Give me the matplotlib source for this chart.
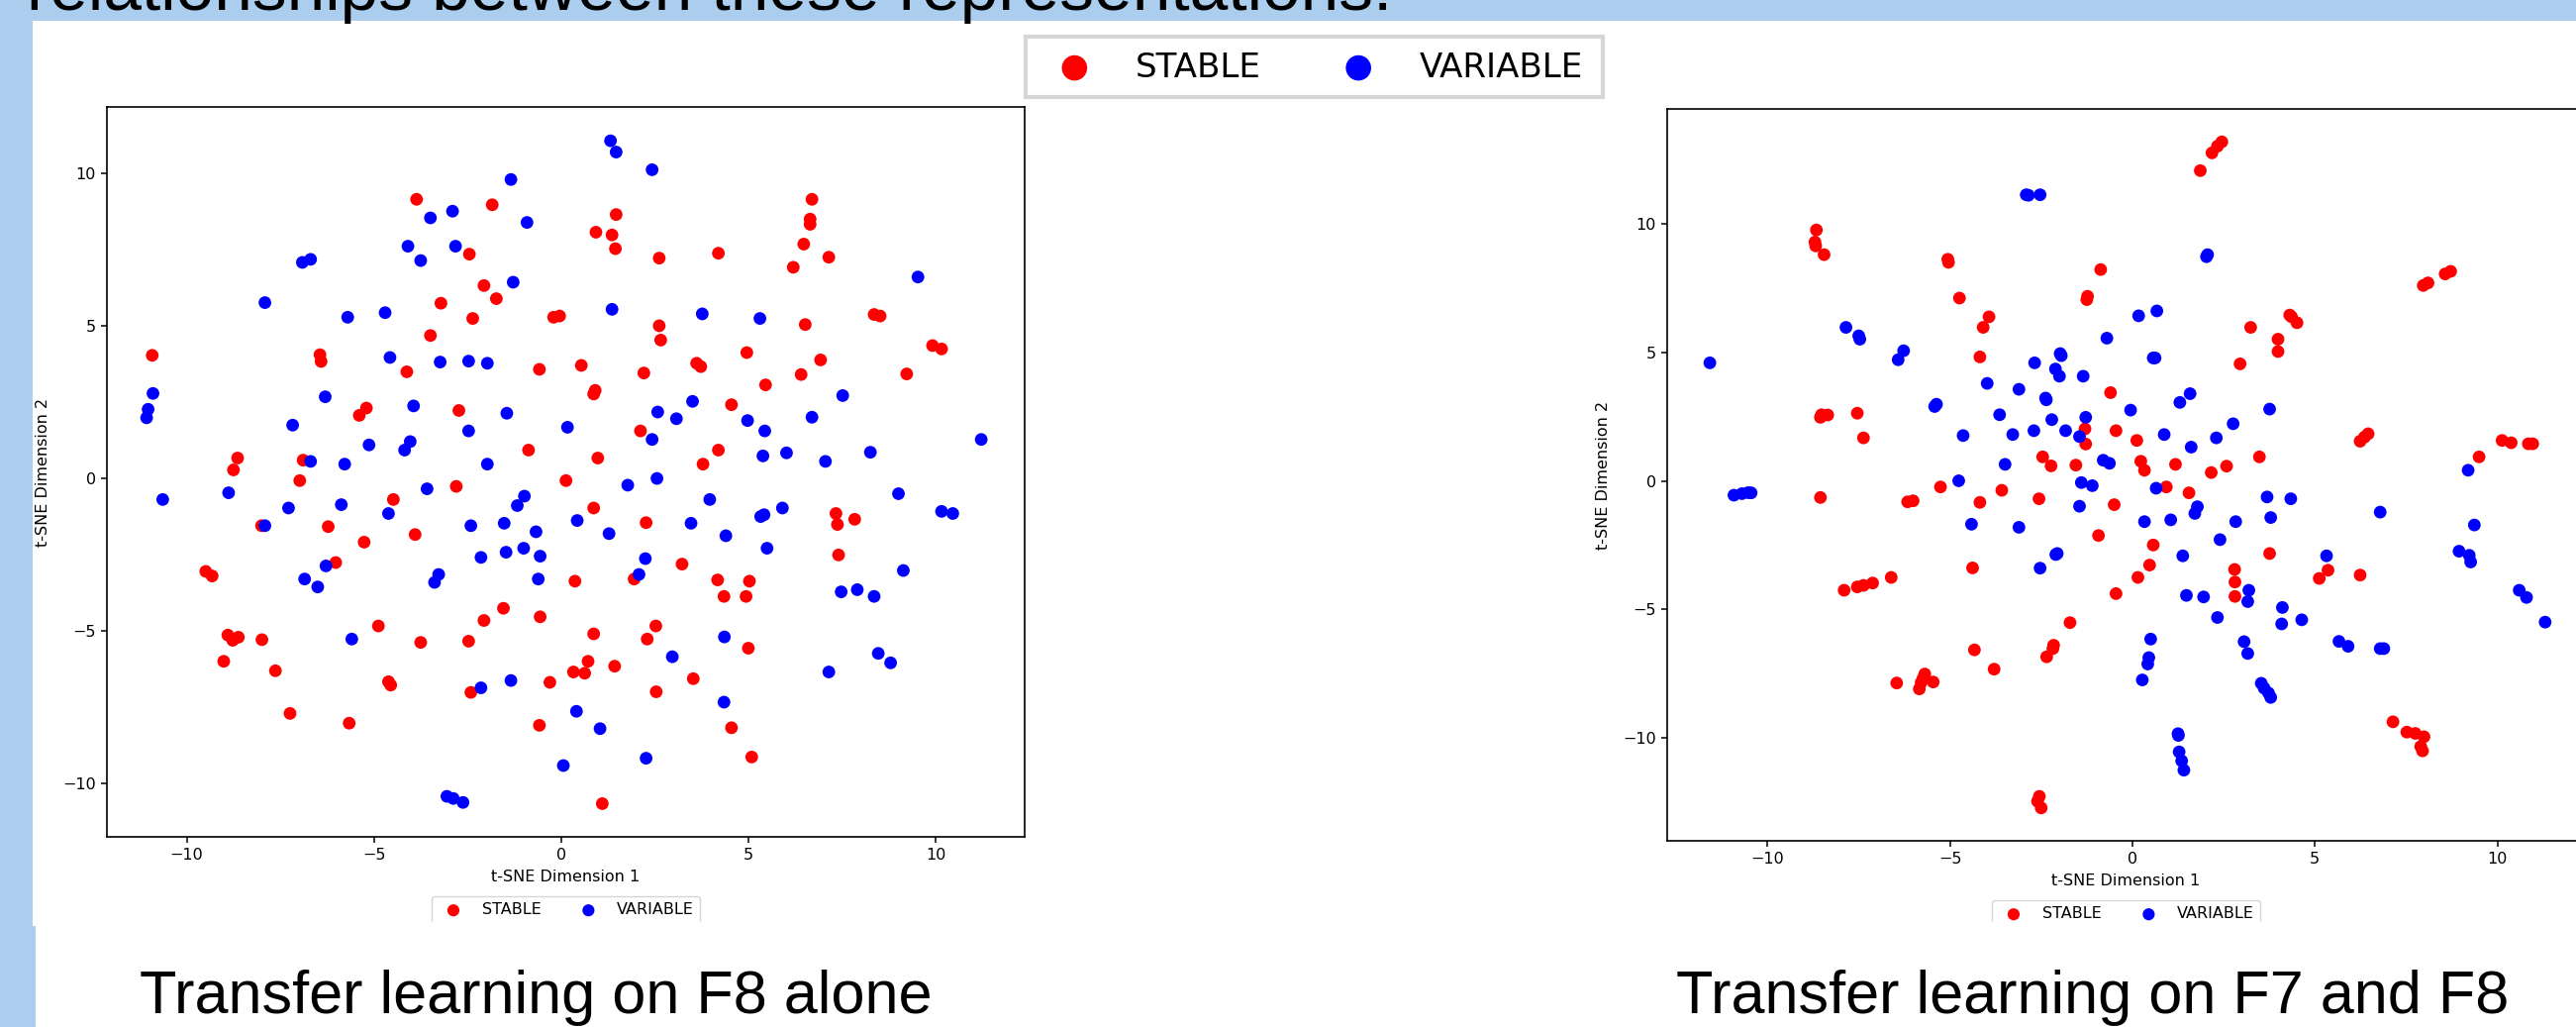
import matplotlib
matplotlib.use("Agg")
import matplotlib.pyplot as plt
import numpy as np
from matplotlib.patches import Rectangle

W, H = 2602, 1037
SLIDE_BLUE = "#abcdee"

# t-SNE coordinates, transfer learning on F8 alone
f8_stable = np.array([
    (-3.86, 9.16), (-1.84, 8.98), (1.47, 8.66), (0.93, 8.08), (1.36, 7.99), (1.45, 7.54),
    (-2.45, 7.36), (2.62, 7.23), (4.20, 7.39), (6.70, 9.16), (6.65, 8.51), (6.65, 8.34),
    (6.48, 7.69), (7.15, 7.26), (6.20, 6.93), (-2.06, 6.33), (-1.73, 5.90), (-3.21, 5.75),
    (-2.36, 5.25), (-0.20, 5.29), (-0.04, 5.33), (2.62, 5.01), (2.66, 4.54), (6.52, 5.05),
    (8.36, 5.38), (8.52, 5.33), (-10.92, 4.04), (-6.44, 4.06), (-6.41, 3.84), (-3.49, 4.69),
    (-4.12, 3.50), (-0.58, 3.58), (0.54, 3.71), (2.21, 3.46), (3.62, 3.78), (3.73, 3.67),
    (4.96, 4.13), (5.46, 3.07), (6.41, 3.41), (6.93, 3.89), (9.92, 4.36), (10.16, 4.25),
    (9.23, 3.43), (0.91, 2.89), (0.87, 2.77), (-5.20, 2.31), (-5.39, 2.07), (-2.73, 2.23),
    (4.55, 2.42), (2.12, 1.56), (4.20, 0.93), (-0.87, 0.93), (0.98, 0.67), (3.79, 0.47),
    (-8.64, 0.67), (-8.75, 0.28), (-6.89, 0.60), (-6.98, -0.07), (0.13, -0.07), (-2.80, -0.26),
    (-4.48, -0.69), (0.87, -0.97), (-8.00, -1.55), (-6.22, -1.58), (-3.90, -1.84), (-5.26, -2.09),
    (2.27, -1.45), (7.34, -1.15), (7.38, -1.51), (7.84, -1.34), (7.41, -2.51), (-6.02, -2.76),
    (-9.49, -3.05), (-9.32, -3.20), (0.37, -3.37), (1.95, -3.30), (3.23, -2.81), (4.18, -3.33),
    (5.03, -3.37), (4.35, -3.87), (4.94, -3.87), (-1.54, -4.26), (-2.06, -4.66), (-0.56, -4.54),
    (-4.88, -4.84), (-8.90, -5.14), (-8.77, -5.31), (-8.62, -5.21), (-7.99, -5.29), (-3.75, -5.38),
    (-2.47, -5.34), (0.87, -5.10), (2.53, -4.84), (2.30, -5.27), (5.00, -5.57), (-9.01, -6.00),
    (-7.63, -6.31), (-4.61, -6.67), (-4.55, -6.78), (-2.41, -7.02), (-0.30, -6.69), (0.33, -6.35),
    (0.63, -6.39), (0.72, -6.00), (1.43, -6.16), (2.54, -7.00), (3.53, -6.57), (-7.24, -7.71),
    (-5.66, -8.03), (-0.58, -8.10), (4.55, -8.18), (5.09, -9.14), (1.10, -10.67),
])
f8_variable = np.array([
    (1.32, 11.08), (1.47, 10.71), (2.43, 10.13), (-1.34, 9.81), (-0.91, 8.40), (-2.90, 8.77),
    (-3.49, 8.55), (-4.09, 7.62), (-3.75, 7.15), (-2.82, 7.62), (-6.91, 7.09), (-6.69, 7.19),
    (-1.28, 6.44), (-7.91, 5.77), (-5.70, 5.29), (-4.70, 5.44), (1.36, 5.55), (3.77, 5.40),
    (5.31, 5.25), (9.53, 6.61), (-4.57, 3.97), (-3.23, 3.82), (-2.47, 3.85), (-1.97, 3.78),
    (-10.90, 2.79), (-11.03, 2.27), (-11.07, 1.99), (-6.30, 2.68), (-3.94, 2.38), (-1.45, 2.14),
    (3.51, 2.53), (2.58, 2.18), (3.08, 1.96), (7.52, 2.72), (6.70, 2.01), (4.98, 1.90),
    (5.44, 1.56), (0.17, 1.68), (-2.47, 1.56), (-7.17, 1.75), (-5.13, 1.10), (-4.03, 1.21),
    (-4.18, 0.93), (-6.69, 0.56), (-5.78, 0.47), (-1.97, 0.47), (2.43, 1.28), (5.39, 0.74),
    (6.02, 0.84), (7.06, 0.56), (8.26, 0.86), (11.22, 1.28), (2.56, 0.00), (1.78, -0.22),
    (-10.64, -0.69), (-8.88, -0.47), (-3.58, -0.34), (-0.98, -0.58), (-1.17, -0.89), (3.97, -0.69),
    (9.01, -0.50), (-7.28, -0.97), (-5.87, -0.86), (-4.61, -1.15), (-7.91, -1.55), (-1.52, -1.47),
    (-0.67, -1.75), (0.43, -1.38), (-2.41, -1.55), (1.28, -1.81), (3.47, -1.47), (4.40, -1.88),
    (5.33, -1.25), (5.42, -1.19), (5.91, -0.97), (10.16, -1.08), (10.46, -1.15), (5.50, -2.29),
    (-2.14, -2.59), (-1.47, -2.42), (-1.00, -2.29), (-0.56, -2.55), (2.25, -2.63), (2.08, -3.15),
    (-6.28, -2.87), (-3.27, -3.15), (-3.38, -3.41), (-6.85, -3.30), (-6.50, -3.56), (-0.61, -3.30),
    (9.14, -3.02), (7.48, -3.72), (7.91, -3.65), (8.36, -3.87), (-5.59, -5.27), (4.36, -5.20),
    (2.97, -5.85), (8.47, -5.74), (8.80, -6.05), (-1.34, -6.63), (-2.14, -6.87), (7.15, -6.35),
    (0.41, -7.64), (1.04, -8.21), (4.35, -7.34), (2.27, -9.18), (0.06, -9.42), (-3.05, -10.43),
    (-2.88, -10.50), (-2.62, -10.63),
])

# t-SNE coordinates, transfer learning on F7 and F8
f78_stable = np.array([
    (2.45, 13.20), (2.33, 13.03), (2.18, 12.77), (1.86, 12.08), (-8.66, 9.77), (-8.70, 9.30),
    (-8.68, 9.15), (-8.45, 8.81), (-5.06, 8.63), (-5.04, 8.51), (-0.87, 8.23), (-4.74, 7.12),
    (-1.23, 7.19), (-1.25, 7.06), (-3.93, 6.39), (-4.09, 5.98), (-4.18, 4.83), (4.31, 6.46),
    (4.36, 6.39), (4.51, 6.16), (3.24, 5.98), (3.99, 5.52), (3.99, 5.04), (2.95, 4.56),
    (7.97, 7.61), (8.10, 7.71), (8.57, 8.06), (8.72, 8.16), (-0.60, 3.44), (-8.52, 2.58),
    (-8.35, 2.57), (-8.55, 2.48), (-7.54, 2.64), (-7.37, 1.68), (-1.30, 2.03), (-0.45, 1.96),
    (-1.28, 1.44), (0.12, 1.58), (6.24, 1.55), (6.36, 1.71), (6.46, 1.84), (10.13, 1.58),
    (10.38, 1.49), (10.85, 1.45), (10.97, 1.45), (9.50, 0.94), (3.48, 0.94), (-2.46, 0.94),
    (-2.23, 0.59), (-1.55, 0.62), (0.23, 0.77), (0.33, 0.42), (1.18, 0.65), (2.16, 0.33),
    (2.58, 0.58), (-8.55, -0.64), (-6.16, -0.81), (-6.01, -0.77), (-5.26, -0.23), (-4.18, -0.83),
    (-3.58, -0.36), (-2.56, -0.69), (-0.50, -0.92), (0.93, -0.23), (1.55, -0.46), (-0.93, -2.12),
    (0.57, -2.49), (0.47, -3.27), (0.15, -3.75), (-0.45, -4.38), (-4.38, -3.38), (-6.61, -3.75),
    (-7.90, -4.25), (-7.54, -4.12), (-7.37, -4.06), (-7.12, -3.97), (3.76, -2.82), (2.80, -3.44),
    (2.81, -3.93), (2.81, -4.49), (5.12, -3.79), (5.36, -3.47), (6.24, -3.66), (-1.71, -5.51),
    (-2.16, -6.39), (-2.18, -6.52), (-2.35, -6.84), (-4.33, -6.57), (-3.79, -7.32), (-6.46, -7.86),
    (-5.69, -7.51), (-5.74, -7.68), (-5.79, -7.84), (-5.84, -8.09), (-5.46, -7.82), (7.14, -9.37),
    (7.52, -9.77), (7.75, -9.82), (7.99, -9.95), (7.90, -10.33), (7.95, -10.50), (-2.55, -12.27),
    (-2.60, -12.46), (-2.50, -12.72),
])
f78_variable = np.array([
    (-2.91, 11.14), (-2.85, 11.12), (-2.53, 11.14), (2.03, 8.73), (2.06, 8.81), (0.17, 6.43),
    (0.67, 6.62), (-0.70, 5.56), (0.57, 4.79), (0.62, 4.79), (-1.98, 4.96), (-1.95, 4.88),
    (-2.68, 4.60), (-2.11, 4.36), (-2.00, 4.08), (-1.35, 4.08), (-3.98, 3.80), (-3.11, 3.57),
    (-2.38, 3.23), (-2.36, 3.16), (-11.58, 4.60), (-7.85, 5.98), (-7.50, 5.65), (-7.47, 5.52),
    (-6.42, 4.72), (-6.27, 5.07), (-5.42, 2.90), (-5.37, 2.99), (-3.64, 2.58), (-4.64, 1.77),
    (-3.28, 1.81), (-2.70, 1.96), (-2.21, 2.39), (-1.83, 1.96), (-1.28, 2.48), (-1.45, 1.73),
    (-0.05, 2.76), (1.30, 3.06), (1.58, 3.40), (0.87, 1.81), (2.30, 1.68), (2.76, 2.23),
    (3.76, 2.80), (1.61, 1.32), (-3.49, 0.65), (-0.80, 0.81), (-0.63, 0.69), (-4.76, 0.01),
    (-1.40, -0.06), (-1.10, -0.18), (0.65, -0.28), (9.20, 0.42), (-10.92, -0.55), (-10.70, -0.49),
    (-10.53, -0.45), (-10.45, -0.46), (-1.45, -0.98), (1.78, -1.00), (1.71, -1.26), (0.33, -1.58),
    (1.05, -1.51), (2.83, -1.58), (3.69, -0.62), (3.79, -1.42), (4.34, -0.69), (6.79, -1.21),
    (9.37, -1.71), (8.95, -2.73), (9.23, -2.89), (9.27, -3.15), (10.60, -4.25), (10.80, -4.53),
    (11.31, -5.49), (-4.41, -1.68), (-3.11, -1.80), (-2.06, -2.82), (-2.10, -2.86), (-2.53, -3.39),
    (2.40, -2.28), (1.38, -2.91), (5.32, -2.91), (1.48, -4.45), (1.95, -4.51), (3.19, -4.25),
    (3.16, -4.69), (4.11, -4.92), (4.09, -5.56), (4.64, -5.40), (2.33, -5.31), (0.50, -6.15),
    (0.45, -6.87), (0.42, -7.12), (0.27, -7.74), (3.06, -6.25), (3.16, -6.71), (5.66, -6.24),
    (5.91, -6.43), (6.79, -6.52), (6.89, -6.52), (3.53, -7.87), (3.61, -8.06), (3.73, -8.25),
    (3.79, -8.42), (1.25, -9.83), (1.26, -9.90), (1.28, -10.54), (1.35, -10.89), (1.41, -11.25),
])

LABELS = ["STABLE", "VARIABLE"]
COLORS = ["red", "blue"]
TITLE = "relationships between these representations."
CAPTIONS = ["Transfer learning on F8 alone", "Transfer learning on F7 and F8"]

fig = plt.figure(figsize=(W / 100, H / 100), dpi=100)
fig.patch.set_facecolor("white")


def px(x0, y0, w, h):
    """pixel box (top-left origin) -> figure fraction rect"""
    return [x0 / W, 1 - (y0 + h) / H, w / W, h / H]


def tsne_panel(rect, stable, variable, xlim, ylim):
    ax = fig.add_axes(px(*rect))
    for pts, lab, col in zip((stable, variable), LABELS, COLORS):
        ax.scatter(pts[:, 0], pts[:, 1], s=85, c=col, label=lab, edgecolors="none")
    ax.set_xlim(*xlim)
    ax.set_ylim(*ylim)
    ax.set_xticks([-10, -5, 0, 5, 10])
    ax.set_yticks([-10, -5, 0, 5, 10])
    ax.set_xlabel("t-SNE Dimension 1", fontsize=11.5, labelpad=5)
    ax.set_ylabel("t-SNE Dimension 2", fontsize=11.5, labelpad=9)
    ax.tick_params(labelsize=11.5, length=4.5, width=1.1)
    for s in ax.spines.values():
        s.set_linewidth(1.2)
    ax.legend(loc="upper center", bbox_to_anchor=(0.5, -60 / rect[3]), borderaxespad=0,
              ncol=2, fontsize=11.5, columnspacing=2.0, markerscale=0.95)
    return ax


ax1 = tsne_panel((108, 108, 927, 737), f8_stable, f8_variable, (-12.13, 12.38), (-11.76, 12.19))
ax2 = tsne_panel((1684, 110, 927, 739), f78_stable, f78_variable, (-12.75, 12.4), (-14.0, 14.48))

# pasted shared legend at the top
fig.add_artist(Rectangle(px(1036, 37, 583, 61)[:2], 583 / W, 61 / H, transform=fig.transFigure,
                         facecolor="white", edgecolor="#d6d6d6", lw=3, zorder=4))
handles, _ = ax1.get_legend_handles_labels()
fig.legend(handles, LABELS, loc="center", bbox_to_anchor=(1325 / W, 1 - 68 / H), ncol=2,
           frameon=False, fontsize=24.5, markerscale=2.0, handletextpad=0.8,
           columnspacing=1.9, handlelength=2.0)

# slide background: screenshot crop, blue band and bar
fig.add_artist(Rectangle(px(33, 931, W, 110)[:2], W / W, 110 / H, transform=fig.transFigure,
                         facecolor="white", edgecolor="none", zorder=20))
fig.add_artist(Rectangle((0, 1 - 21 / H), 1, 21 / H, transform=fig.transFigure,
                         facecolor=SLIDE_BLUE, edgecolor="none", zorder=21))
fig.add_artist(Rectangle((0, 0), 33 / W, 1, transform=fig.transFigure,
                         facecolor=SLIDE_BLUE, edgecolor="none", zorder=21))
fig.add_artist(Rectangle((0, 0), 36 / W, 1 - 935 / H, transform=fig.transFigure,
                         facecolor=SLIDE_BLUE, edgecolor="none", zorder=21))

fig.text(27 / W, 1 - 10 / H, TITLE, fontsize=50, family="Liberation Sans", va="baseline",
         ha="left", zorder=22)
fig.text(141 / W, 1 - 1023 / H, CAPTIONS[0], fontsize=44, family="Liberation Sans",
         va="baseline", ha="left", zorder=22)
fig.text(1693 / W, 1 - 1023 / H, CAPTIONS[1], fontsize=44, family="Liberation Sans",
         va="baseline", ha="left", zorder=22)

fig.savefig("out.png", dpi=100)
